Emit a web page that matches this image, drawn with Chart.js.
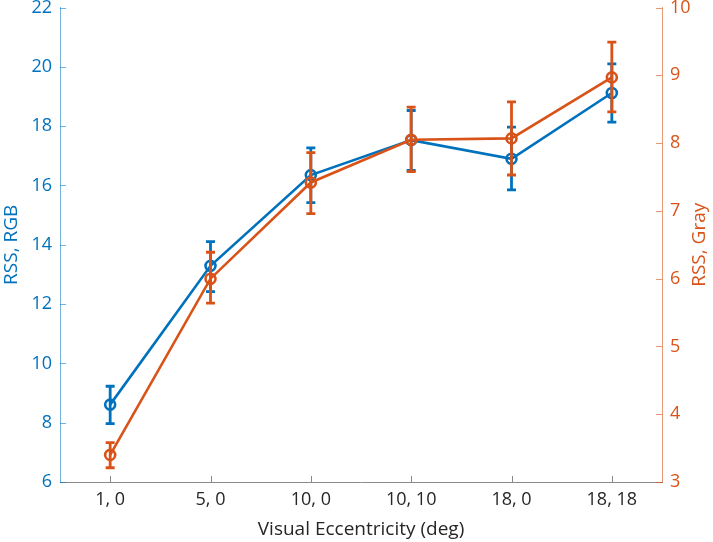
<!DOCTYPE html>
<html>
<head>
<meta charset="utf-8">
<script src="https://cdn.jsdelivr.net/npm/chart.js@4/dist/chart.umd.min.js"></script>
<style>
  html, body { margin: 0; padding: 0; background: #fff; }
</style>
</head>
<body>
<canvas id="chart" width="713" height="542"></canvas>
<script>
// Eccentricity conditions (x, y in deg)
const categories = ['1, 0', '5, 0', '10, 0', '10, 10', '18, 0', '18, 18'];

// RSS for RGB stimuli (left axis)
const rgbMean = [8.61, 13.29, 16.35, 17.53, 16.90, 19.12];
const rgbLow  = [7.97, 12.42, 15.42, 16.51, 15.85, 18.14];
const rgbHigh = [9.23, 14.11, 17.27, 18.53, 17.97, 20.10];

// RSS for gray stimuli (right axis)
const grayMean = [3.40, 6.00, 7.42, 8.05, 8.07, 8.97];
const grayLow  = [3.21, 5.64, 6.96, 7.58, 7.53, 8.46];
const grayHigh = [3.58, 6.39, 7.86, 8.53, 8.61, 9.49];

const BLUE = '#0072BD';
const ORANGE = '#D95319';
const FONT = "'Open Sans', 'DejaVu Sans', sans-serif";

const errBars = [
  { low: rgbLow, high: rgbHigh, color: BLUE },
  { low: grayLow, high: grayHigh, color: ORANGE }
];

// error bars, inward tick marks and the right-hand label
const extras = {
  id: 'extras',
  afterDatasetDraw(chart, args) {
    const eb = errBars[args.index];
    if (!eb) return;
    const ys = chart.scales[args.meta.yAxisID];
    const ctx = chart.ctx;
    ctx.save();
    ctx.strokeStyle = eb.color;
    ctx.lineWidth = 2.8;
    args.meta.data.forEach((pt, k) => {
      const x = pt.x;
      const y1 = ys.getPixelForValue(eb.low[k]);
      const y2 = ys.getPixelForValue(eb.high[k]);
      ctx.beginPath();
      ctx.moveTo(x, y1); ctx.lineTo(x, y2);
      ctx.moveTo(x - 4.5, y1); ctx.lineTo(x + 4.5, y1);
      ctx.moveTo(x - 4.5, y2); ctx.lineTo(x + 4.5, y2);
      ctx.stroke();
    });
    ctx.restore();
  },
  afterDraw(chart) {
    const { ctx, chartArea: a, scales } = chart;
    ctx.save();
    ctx.lineWidth = 1;
    // left ticks
    ctx.strokeStyle = 'rgba(0,114,189,0.55)';
    scales.y.ticks.forEach(t => {
      const y = Math.round(scales.y.getPixelForValue(t.value)) + 0.5;
      ctx.beginPath(); ctx.moveTo(a.left, y); ctx.lineTo(a.left + 6, y); ctx.stroke();
    });
    // right ticks
    ctx.strokeStyle = 'rgba(217,83,25,0.6)';
    scales.y2.ticks.forEach(t => {
      const y = Math.round(scales.y2.getPixelForValue(t.value)) + 0.5;
      ctx.beginPath(); ctx.moveTo(a.right - 6, y); ctx.lineTo(a.right, y); ctx.stroke();
    });
    // bottom ticks
    ctx.strokeStyle = '#8a8a8a';
    categories.forEach((c, i) => {
      const x = Math.round(scales.x.getPixelForValue(i)) + 0.5;
      ctx.beginPath(); ctx.moveTo(x, a.bottom); ctx.lineTo(x, a.bottom - 6); ctx.stroke();
    });
    // right axis title, reads bottom to top like the left one
    ctx.translate(700, (a.top + a.bottom) / 2);
    ctx.rotate(-Math.PI / 2);
    ctx.fillStyle = ORANGE;
    ctx.font = '19px ' + FONT;
    ctx.textAlign = 'center';
    ctx.textBaseline = 'middle';
    ctx.fillText('RSS, Gray', 0, 0);
    ctx.restore();
  }
};

new Chart(document.getElementById('chart'), {
  type: 'line',
  data: {
    labels: categories,
    datasets: [
      {
        label: 'RSS, RGB', data: rgbMean, yAxisID: 'y',
        borderColor: BLUE, borderWidth: 2.6, tension: 0, order: 2,
        pointRadius: 5, pointBorderWidth: 2.6,
        pointBorderColor: BLUE, pointBackgroundColor: 'rgba(0,0,0,0)'
      },
      {
        label: 'RSS, Gray', data: grayMean, yAxisID: 'y2',
        borderColor: ORANGE, borderWidth: 2.6, tension: 0, order: 1,
        pointRadius: 5, pointBorderWidth: 2.6,
        pointBorderColor: ORANGE, pointBackgroundColor: 'rgba(0,0,0,0)'
      }
    ]
  },
  options: {
    responsive: false,
    animation: false,
    layout: { padding: { top: 6, left: 0, right: 0, bottom: 0 } },
    plugins: { legend: { display: false }, tooltip: { enabled: false } },
    scales: {
      x: {
        type: 'category', offset: true,
        grid: { display: false, drawTicks: false },
        border: { display: true, color: '#8a8a8a', width: 1 },
        ticks: { color: '#262626', font: { family: FONT, size: 18 }, padding: 7, maxRotation: 0 },
        title: { display: true, text: 'Visual Eccentricity (deg)', color: '#262626',
                 font: { family: FONT, size: 19 }, padding: { top: 0, bottom: 1 } },
        afterFit(s) { s.height = 60; s.paddingLeft = 0; s.paddingRight = 0; }
      },
      y: {
        position: 'left', min: 6, max: 22,
        grid: { display: false, drawTicks: false },
        border: { display: true, color: 'rgba(0,114,189,0.55)', width: 1 },
        ticks: { stepSize: 2, color: BLUE, font: { family: FONT, size: 18 }, padding: 8 },
        title: { display: true, text: 'RSS, RGB', color: BLUE,
                 font: { family: FONT, size: 19 }, padding: 0 },
        afterFit(s) { s.width = 60; s.paddingTop = 0; s.paddingBottom = 0; }
      },
      y2: {
        position: 'right', min: 3, max: 10,
        grid: { display: false, drawTicks: false },
        border: { display: true, color: 'rgba(217,83,25,0.6)', width: 1 },
        ticks: { stepSize: 1, color: ORANGE, font: { family: FONT, size: 18 }, padding: 8 },
        afterFit(s) { s.width = 51; s.paddingTop = 0; s.paddingBottom = 0; }
      }
    }
  },
  plugins: [extras]
});
</script>
</body>
</html>
